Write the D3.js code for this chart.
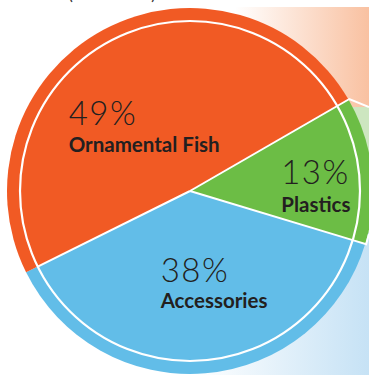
<!DOCTYPE html>
<html>
<head>
<meta charset="utf-8">
<script src="https://cdn.jsdelivr.net/npm/d3@7"></script>
<style>
  html, body { margin: 0; padding: 0; background: #ffffff; }
  svg { display: block; }
</style>
</head>
<body>
<svg id="chart" width="369" height="375"></svg>
<script>
// ---- data ----
const categories = ["Plastics", "Accessories", "Ornamental Fish"];
const values = [13, 38, 49];
const pctLabels = ["13%", "38%", "49%"];
const colors = ["#6cbd45", "#62bde8", "#f15a24"];
const subtitle = "(value share)";

// ---- layout ----
const W = 369, H = 375;
const cx = 190, cy = 191;
const R = 183, rInner = 170;
const startDeg = 60;
// label offsets from centroid (left-aligned text)
const labelOffsets = [[-23, 6], [-39, -24], [-67, 35.5]];

const svg = d3.select("#chart");
const defs = svg.append("defs");

const gPeach = defs.append("linearGradient").attr("id", "gPeach")
  .attr("gradientUnits", "userSpaceOnUse").attr("x1", 235).attr("x2", 369).attr("y1", 0).attr("y2", 0);
gPeach.append("stop").attr("offset", 0).attr("stop-color", "#ffffff");
gPeach.append("stop").attr("offset", 1).attr("stop-color", "#f9c1a1");

const gBlue = defs.append("linearGradient").attr("id", "gBlue")
  .attr("gradientUnits", "userSpaceOnUse").attr("x1", 195).attr("x2", 369).attr("y1", 0).attr("y2", 0);
gBlue.append("stop").attr("offset", 0).attr("stop-color", "#ffffff");
gBlue.append("stop").attr("offset", 1).attr("stop-color", "#c6e2f5");

// background bands
svg.append("rect").attr("x", 230).attr("y", 7).attr("width", W - 230).attr("height", 100).attr("fill", "url(#gPeach)");
svg.append("rect").attr("x", 300).attr("y", 107).attr("width", W - 300).attr("height", 127).attr("fill", "#cde6c0");
svg.append("rect").attr("x", 190).attr("y", 233).attr("width", W - 190).attr("height", H - 233).attr("fill", "url(#gBlue)");

// subtitle (cut at top, as in the reference)
svg.append("text").attr("x", 112).attr("y", 0)
  .attr("text-anchor", "middle")
  .attr("font-family", "Lato, 'Open Sans', sans-serif")
  .attr("font-size", 16)
  .attr("fill", "#333")
  .text(subtitle);

const pie = d3.pie().sort(null).value(d => d)
  .startAngle(startDeg * Math.PI / 180)
  .endAngle((startDeg + 360) * Math.PI / 180);
const arcs = pie(values);

const g = svg.append("g").attr("transform", `translate(${cx},${cy})`);

const arcOuter = d3.arc().innerRadius(0).outerRadius(R);
g.selectAll("path.slice").data(arcs).join("path")
  .attr("class", "slice")
  .attr("d", arcOuter)
  .attr("fill", (d, i) => colors[i]);

// white separators inside ring
const ang = a => a - Math.PI / 2;
arcs.forEach((d, i) => {
  const a = ang(d.startAngle);
  g.append("line")
    .attr("x1", 0).attr("y1", 0)
    .attr("x2", rInner * Math.cos(a)).attr("y2", rInner * Math.sin(a))
    .attr("stroke", "#fff").attr("stroke-width", 2);
});

// white inner circle
g.append("circle").attr("r", rInner).attr("fill", "none")
  .attr("stroke", "#fff").attr("stroke-width", 2.2);

// extended separators for green slice into background
const gs = arcs[0];
[[gs.startAngle, 107], [gs.endAngle, 234]].forEach(([a0, yEdge]) => {
  const a = ang(a0);
  const x1 = rInner * Math.cos(a), y1 = rInner * Math.sin(a);
  const x2 = (R + 1) * Math.cos(a), y2 = (R + 1) * Math.sin(a);
  g.append("path")
    .attr("d", `M${x1},${y1}L${x2},${y2}L${W - cx},${yEdge - cy}`)
    .attr("fill", "none").attr("stroke", "#fff").attr("stroke-width", 2);
});

// labels
const arcLabel = d3.arc().innerRadius(115).outerRadius(115);
arcs.forEach((d, i) => {
  const [mx, my] = arcLabel.centroid(d);
  const x = mx + labelOffsets[i][0];
  const y = my + labelOffsets[i][1];
  g.append("text").attr("x", x).attr("y", y)
    .attr("font-family", "Lato, 'Open Sans', sans-serif")
    .attr("font-weight", 300)
    .attr("font-size", 33)
    .attr("letter-spacing", 1.5)
    .attr("fill", "#231f20")
    .text(pctLabels[i]);
  g.append("text").attr("x", x).attr("y", y + (i === 0 ? 28 : i === 1 ? 26 : 27))
    .attr("font-family", "Lato, 'Open Sans', sans-serif")
    .attr("font-weight", 700)
    .attr("font-size", 20.5)
    .attr("fill", "#231f20")
    .text(categories[i]);
});
</script>
</body>
</html>
